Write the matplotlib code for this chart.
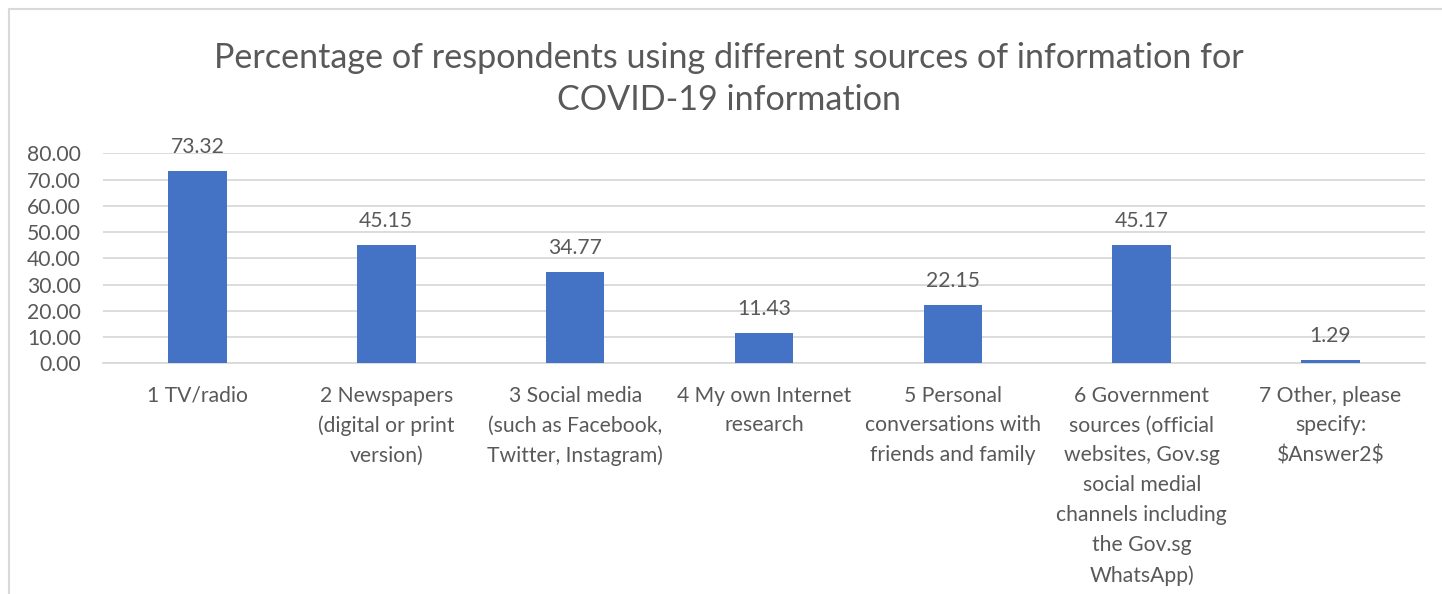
import matplotlib
matplotlib.use("Agg")
import matplotlib.pyplot as plt
from matplotlib.lines import Line2D

# survey results: share of respondents per information source (%)
categories = [
    "1 TV/radio",
    "2 Newspapers\n(digital or print\nversion)",
    "3 Social media\n(such as Facebook,\nTwitter, Instagram)",
    "4 My own Internet\nresearch",
    "5 Personal\nconversations with\nfriends and family",
    "6 Government\nsources (official\nwebsites, Gov.sg\nsocial medial\nchannels including\nthe Gov.sg\nWhatsApp)",
    "7 Other, please\nspecify:\n\\$Answer2\\$",
]
percentages = [73.32, 45.15, 34.77, 11.43, 22.15, 45.17, 1.29]
y_ticks = [0, 10, 20, 30, 40, 50, 60, 70, 80]

title = "Percentage of respondents using different sources of information for\nCOVID-19 information"

text_grey = "#595959"
grid_grey = "#D9D9D9"
bar_blue = "#4472C4"

plt.rcParams["font.family"] = ["Lato", "DejaVu Sans"]

W, H = 1442, 594
fig = plt.figure(figsize=(W / 100, H / 100), dpi=100)
ax = fig.add_axes([103 / W, 1 - 363.3 / H, (1425 - 103) / W, (363.3 - 153.3) / H])

x = range(len(categories))
ax.bar(x, percentages, width=0.31, color=bar_blue, zorder=3)

for xi, v in zip(x, percentages):
    ax.annotate("%.2f" % v, (xi, v), xytext=(0, 13), textcoords="offset points",
                ha="center", va="baseline", fontsize=15.2, color=text_grey)

ax.set_xlim(-0.5, len(categories) - 0.5)
ax.set_ylim(0, 80)
ax.set_yticks(y_ticks)
ax.set_yticklabels(["%.2f" % t for t in y_ticks])
ax.set_xticks(list(x))
ax.set_xticklabels(categories, linespacing=1.62, multialignment="center")

ax.grid(axis="y", color=grid_grey, linewidth=1.3, zorder=0)
ax.set_axisbelow(True)
for side in ["top", "right", "left"]:
    ax.spines[side].set_visible(False)
ax.spines["bottom"].set_color(grid_grey)
ax.spines["bottom"].set_linewidth(1.3)
ax.tick_params(axis="both", length=0, labelsize=15.2, labelcolor=text_grey)
ax.tick_params(axis="y", pad=16)
ax.tick_params(axis="x", pad=16)

fig.text(0.5055, 1 - 79 / H, title, ha="center", va="center", fontsize=24.6,
         color=text_grey, linespacing=1.42)

# chart area frame (top and left edges only are inside the image)
fx, fy = 9 / W, 1 - 9 / H
fig.add_artist(Line2D([fx, 1], [fy, fy], color=grid_grey, linewidth=1.5))
fig.add_artist(Line2D([fx, fx], [0, fy], color=grid_grey, linewidth=1.5))

fig.savefig("out.png", dpi=100)
